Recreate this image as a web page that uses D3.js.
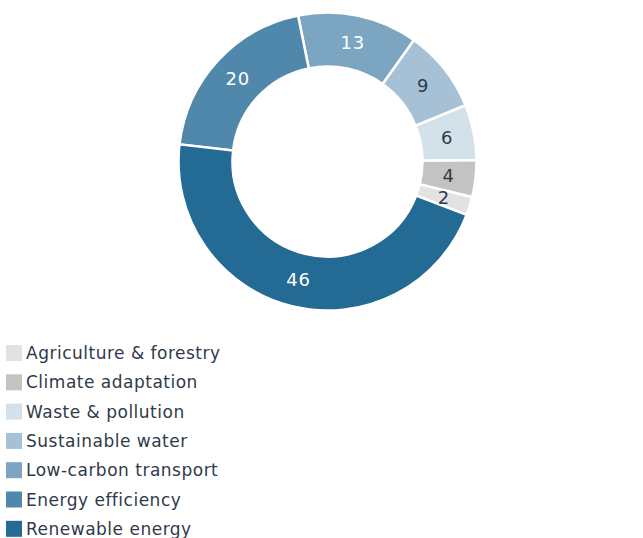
<!DOCTYPE html>
<html lang="en">
<head>
  <meta charset="UTF-8">
  <title>Green bond allocation</title>
  <script src="https://cdnjs.cloudflare.com/ajax/libs/d3/7.8.5/d3.min.js"></script>
  <style>
    * { margin: 0; padding: 0; box-sizing: border-box; }
    body {
      background: #ffffff;
      width: 643px;
      height: 538px;
      overflow: hidden;
      font-family: "DejaVu Sans", "Noto Sans", sans-serif;
    }
    .slice-label { font-size: 18px; letter-spacing: 0.8px; }
    .legend-text { font-size: 17px; letter-spacing: 0.5px; fill: #2f3a4a; }
  </style>
</head>
<body>
<div id="chart"></div>
<script>
  // Data (legend order, top to bottom)
  const categories = [
    "Agriculture & forestry",
    "Climate adaptation",
    "Waste & pollution",
    "Sustainable water",
    "Low-carbon transport",
    "Energy efficiency",
    "Renewable energy"
  ];
  const values = [2, 4, 6, 9, 13, 20, 46];
  const colors = ["#e2e2e2", "#c4c3c1", "#d3e1eb", "#a6c1d5", "#7ba5c1", "#4f88ab", "#236a94"];
  const labelColors = ["#2f3a4a", "#2f3a4a", "#2f3a4a", "#2f3a4a", "#ffffff", "#ffffff", "#ffffff"];

  const width = 643;
  const height = 538;
  const cx = 327.5, cy = 161.5;
  const outerR = 149, innerR = 95;
  const start = 111 * Math.PI / 180;

  const data = categories.map((c, i) => ({name: c, value: values[i], color: colors[i], labelColor: labelColors[i]}));

  const svg = d3.select("#chart")
    .append("svg")
    .attr("width", width)
    .attr("height", height);

  const pie = d3.pie()
    .sort(null)
    .value(d => d.value)
    .startAngle(start)
    .endAngle(start - 2 * Math.PI);

  const arc = d3.arc().innerRadius(innerR).outerRadius(outerR);

  const g = svg.append("g").attr("transform", `translate(${cx},${cy})`);
  const arcs = pie(data);

  g.selectAll("path")
    .data(arcs)
    .enter()
    .append("path")
    .attr("d", arc)
    .attr("fill", d => d.data.color)
    .attr("stroke", "#ffffff")
    .attr("stroke-width", 2.5);

  g.selectAll("text")
    .data(arcs)
    .enter()
    .append("text")
    .attr("class", "slice-label")
    .attr("transform", d => `translate(${arc.centroid(d)})`)
    .attr("text-anchor", "middle")
    .attr("dy", "0.36em")
    .attr("fill", d => d.data.labelColor)
    .text(d => d.data.value);

  // Legend
  const legendY = d3.scaleBand()
    .domain(categories)
    .range([345, 345 + 29.3 * categories.length]);

  const legend = svg.append("g")
    .selectAll("g")
    .data(data)
    .enter()
    .append("g")
    .attr("transform", d => `translate(6,${legendY(d.name)})`);

  legend.append("rect")
    .attr("width", 16)
    .attr("height", 16)
    .attr("fill", d => d.color);

  legend.append("text")
    .attr("class", "legend-text")
    .attr("x", 20)
    .attr("y", 8)
    .attr("dy", "0.36em")
    .text(d => d.name);
</script>
</body>
</html>
